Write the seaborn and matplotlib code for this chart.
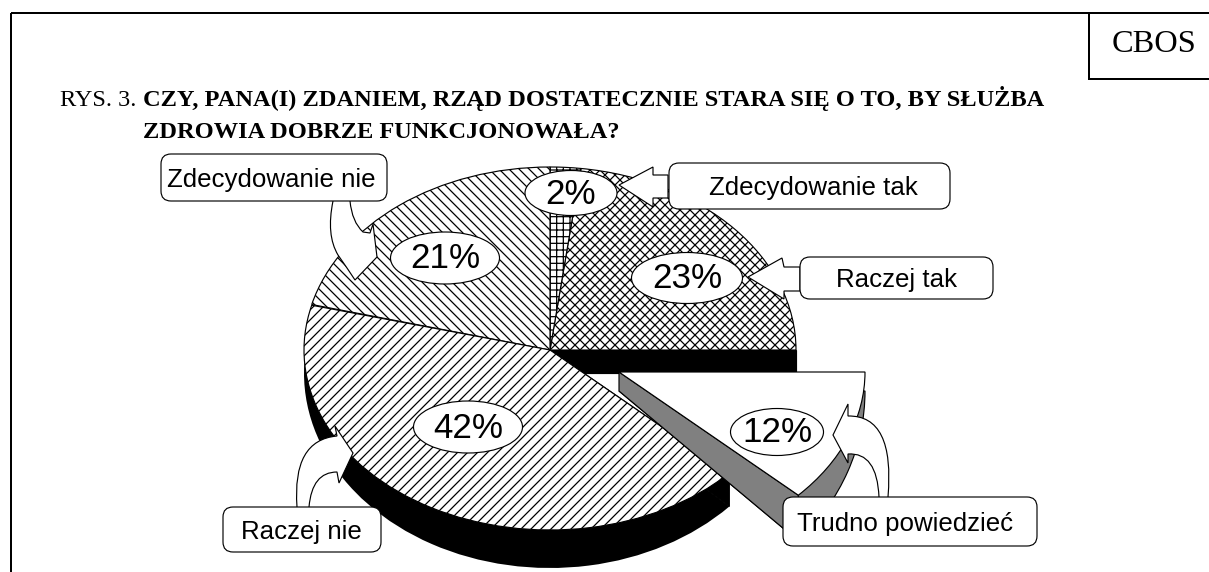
import numpy as np
import matplotlib
matplotlib.use("Agg")
import matplotlib.pyplot as plt
import seaborn as sns
from matplotlib.patches import Ellipse, FancyBboxPatch, PathPatch, Polygon, Rectangle
from matplotlib.path import Path
from matplotlib.transforms import Affine2D

answers = ["Raczej tak", "Zdecydowanie tak", "Zdecydowanie nie", "Raczej nie", "Trudno powiedzieć"]
shares = [23, 2, 21, 42, 12]
share_labels = ["23%", "2%", "21%", "42%", "12%"]
hatches = ["xxxx", "+++", "\\\\\\\\", "////", ""]

sns.set_theme(style="white")
plt.rcParams["font.family"] = ["Liberation Sans", "DejaVu Sans"]
plt.rcParams["hatch.linewidth"] = 0.75
plt.rcParams["hatch.color"] = "black"

DPI = 120
fig = plt.figure(figsize=(1209 / DPI, 572 / DPI), dpi=DPI, facecolor="white")
ax = fig.add_axes([0, 0, 1, 1])

CX, CY = 550, 350
A = 246
B_UP, B_DOWN = 183, 180
LOW_CY, LOW_B = 373, 195
OFF_X, OFF_Y = 69, 22
GRAY_CY, GRAY_B = 391, 219
LW = 0.7


def place(wedge, cx, cy, a, b, z):
    # pie is drawn on a unit circle, then squashed to the tilted ellipse
    wedge.set_transform(Affine2D().scale(a, -b).translate(cx, cy) + ax.transData)
    wedge.set_zorder(z)


def wall(theta, cx, top_y, top_b, low_y, low_b, color, z):
    c, s = np.cos(np.radians(theta)), np.sin(np.radians(theta))
    pts = [(cx, top_y), (cx + A * c, top_y - top_b * s), (cx + A * c, low_y - low_b * s), (cx, low_y)]
    ax.add_patch(Polygon(pts, closed=True, facecolor=color, edgecolor=color if color == "black" else "black", lw=LW, zorder=z))


# side of the pie
sides, _ = ax.pie(shares, colors=["black"] * 5, radius=1, wedgeprops=dict(linewidth=0))
for i, w in enumerate(sides):
    if i == 3:
        place(w, CX, LOW_CY, A, LOW_B, 1)
    elif i == 4:
        w.set_facecolor("#808080")
        w.set_edgecolor("black")
        w.set_linewidth(LW)
        place(w, CX + OFF_X, GRAY_CY, A, GRAY_B, 4)
    else:
        w.set_visible(False)

# top faces
tops, _ = ax.pie(
    shares,
    colors=["white"] * 5,
    hatch=hatches,
    radius=1,
    wedgeprops=dict(edgecolor="black", linewidth=LW),
)
for i, w in enumerate(tops):
    if i == 4:
        place(w, CX + OFF_X, CY + OFF_Y, A, B_DOWN, 6)
    elif i == 3:
        place(w, CX, CY, A, B_DOWN, 3)
    else:
        place(w, CX, CY, A, B_UP, 3)

cut = tops[3].theta2
wall(0, CX, CY, 0, LOW_CY, 0, "black", 2)
wall(cut, CX, CY, B_DOWN, LOW_CY, LOW_B, "black", 2)
wall(cut, CX + OFF_X, CY + OFF_Y, B_DOWN, GRAY_CY, GRAY_B, "#808080", 5)

ax.set_aspect("auto")
ax.set_xlim(0, 1209)
ax.set_ylim(572, 0)
ax.axis("off")

# percent ovals
ovals = [(687, 278, 111, 51), (571, 193, 92, 45), (445, 258, 109, 52), (468, 427, 109, 52), (777, 432, 93, 47)]
for (x, y, w, h), txt in zip(ovals, share_labels):
    ax.add_patch(Ellipse((x, y), w, h, facecolor="white", edgecolor="black", lw=LW, zorder=8))
    ax.text(x, y + 1, txt, ha="center", va="center", fontsize=21, color="black", zorder=9)

M, L, C = Path.MOVETO, Path.LINETO, Path.CURVE3
arrows = [
    [((653, 167), M), ((653, 175), L), ((668, 175), L), ((668, 198), L), ((653, 198), L), ((653, 207), L), ((619, 185), L)],
    [((782, 258), M), ((784, 267), L), ((800, 267), L), ((800, 291), L), ((784, 291), L), ((784, 299), L), ((748, 277), L)],
    [
        ((333, 201), M), ((326, 235), C), ((338, 255), C), ((347, 268), L), ((355, 280), L), ((377, 257), L),
        ((373, 224), L), ((370, 233), L), ((363, 232), L), ((352, 222), C), ((350, 201), C),
    ],
    [
        ((297, 507), M), ((292, 440), C), ((337, 436), C), ((335, 426), L), ((353, 453), L), ((339, 483), L),
        ((337, 472), L), ((312, 472), C), ((309, 507), C),
    ],
    [
        ((888, 497), M), ((895, 415), C), ((848, 416), C), ((848, 404), L), ((833, 435), L), ((848, 463), L),
        ((848, 454), L), ((877, 452), C), ((879, 497), C),
    ],
]
for arrow in arrows:
    verts = [p for p, _ in arrow]
    codes = [c for _, c in arrow]
    if codes[-1] == L:
        verts.append(verts[0])
        codes.append(Path.CLOSEPOLY)
    ax.add_patch(PathPatch(Path(verts, codes), facecolor="white", edgecolor="black", lw=LW, zorder=10))

# answer boxes: x, y, w, h, text centre
boxes = {
    "Raczej tak": (800, 257, 193, 42, 897),
    "Zdecydowanie tak": (669, 163, 281, 46, 813),
    "Zdecydowanie nie": (161, 154, 226, 47, 271.5),
    "Raczej nie": (223, 507, 158, 45, 301),
    "Trudno powiedzieć": (783, 497, 254, 49, 905),
}
for name in answers:
    x, y, w, h, tx = boxes[name]
    ax.add_patch(
        FancyBboxPatch(
            (x, y), w, h, boxstyle="round,pad=0,rounding_size=10",
            facecolor="white", edgecolor="black", lw=LW, zorder=11,
        )
    )
    ax.text(tx, y + h / 2 + 2, name, ha="center", va="center", fontsize=15.5, color="black", zorder=12)

# page frame and headings
ax.add_patch(Rectangle((11, 13), 1300, 700, fill=False, edgecolor="black", lw=1.2, zorder=13))
ax.add_patch(Rectangle((1089, 13), 200, 66, fill=False, edgecolor="black", lw=1.2, zorder=13))
ax.text(1154, 45, "CBOS", family="Liberation Serif", fontsize=19.4, ha="center", va="center", color="black")
ax.text(60, 106, "RYS. 3.", family="Liberation Serif", fontsize=14.6, va="baseline", color="black")
ax.text(
    143, 106, "CZY, PANA(I) ZDANIEM, RZĄD DOSTATECZNIE STARA SIĘ O TO, BY SŁUŻBA",
    family="Liberation Serif", weight="bold", fontsize=14.6, va="baseline", color="black",
)
ax.text(
    143, 138, "ZDROWIA DOBRZE FUNKCJONOWAŁA?",
    family="Liberation Serif", weight="bold", fontsize=14.6, va="baseline", color="black",
)

fig.savefig("out.png", dpi=DPI)
